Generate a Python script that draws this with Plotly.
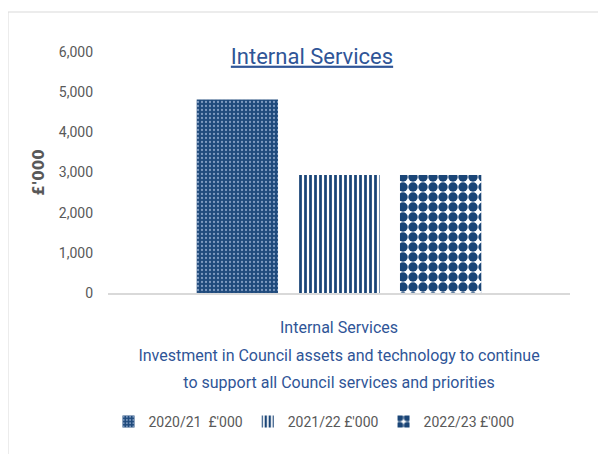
import plotly.graph_objects as go

category_lines = [
    "Internal Services",
    "Investment in Council assets and technology to continue",
    "to support all Council services and priorities",
]
categories = ["<br>".join(category_lines)]
series_names = ["2020/21  £'000", "2021/22 £'000", "2022/23 £'000"]
values_2020 = [4820]
values_2021 = [2940]
values_2022 = [2940]
y_ticks = [0, 1000, 2000, 3000, 4000, 5000, 6000]

OFF = 8  # page body margin
W, H = 606 - OFF, 454 - OFF
L, R, T, B = 108 - OFF, 606 - 570, 52 - OFF, 454 - 293
pw, ph = W - L - R, H - T - B

def px(p):
    return (p - OFF - L) / pw

def py(q):
    return (H - B - (q - OFF)) / ph

BLUE = "#1F4A7C"
DARK = "#1A4577"
DOT = "#7F9BC0"
TXT_BLUE = "#2F5597"
GREY = "#595959"
FONT = "Roboto"

patterns = [
    dict(shape=".", fgcolor=DOT, bgcolor=BLUE, size=4, solidity=0.25, fgopacity=1),
    dict(shape="|", fgcolor=DARK, bgcolor="white", size=5, solidity=0.55, fgopacity=1),
    dict(shape=".", fgcolor=DARK, bgcolor="white", size=10, solidity=0.7, fgopacity=1),
]

fig = go.Figure()
for name, vals, pat in zip(series_names, [values_2020, values_2021, values_2022], patterns):
    fig.add_trace(go.Bar(
        x=categories, y=vals, name=name,
        marker=dict(color=BLUE, line=dict(width=0), pattern=pat),
    ))

ticktext = ["<br>".join(f"<span style='font-size:16px'>{ln}</span>" for ln in c.split("<br>"))
            for c in categories]

fig.update_layout(
    width=W, height=H,
    margin=dict(l=L, r=R, t=T, b=B, autoexpand=False),
    paper_bgcolor="white", plot_bgcolor="white",
    barmode="group", bargap=0.34, bargroupgap=0.2,
    font=dict(family=FONT, color=GREY),
    title=dict(text="<u>Internal Services</u>", x=(312 - OFF) / W, xanchor="center",
               y=1 - (56 - OFF) / H, yanchor="middle",
               font=dict(family=FONT, size=22, color=TXT_BLUE)),
    showlegend=True,
    legend=dict(orientation="h", x=px(314), xanchor="center", y=py(422), yanchor="middle",
                font=dict(family=FONT, size=14, color=GREY), itemwidth=30,
                bgcolor="rgba(0,0,0,0)"),
    xaxis=dict(showgrid=False, showline=True, linecolor="#D9D9D9", linewidth=1.5,
               tickmode="array", tickvals=categories, ticktext=ticktext,
               tickfont=dict(family=FONT, size=21.5, color=TXT_BLUE), ticks="",
               ticklabelstandoff=12),
    yaxis=dict(range=[0, 6000], tickvals=y_ticks, tickformat=",d", showgrid=False,
               zeroline=False, showline=False, ticks="", ticklabelstandoff=14,
               tickfont=dict(family=FONT, size=14, color=GREY),
               title=dict(text="<b>£'000</b>", standoff=10,
                          font=dict(family="DejaVu Sans", size=15, color=GREY))),
    shapes=[
        dict(type="line", xref="paper", yref="paper", x0=px(8), x1=px(640), y0=py(12), y1=py(12),
             line=dict(color="#D9D9D9", width=1)),
        dict(type="line", xref="paper", yref="paper", x0=px(8), x1=px(8), y0=py(12), y1=py(480),
             line=dict(color="#D9D9D9", width=1)),
    ],
)

fig.write_html("out.html")
